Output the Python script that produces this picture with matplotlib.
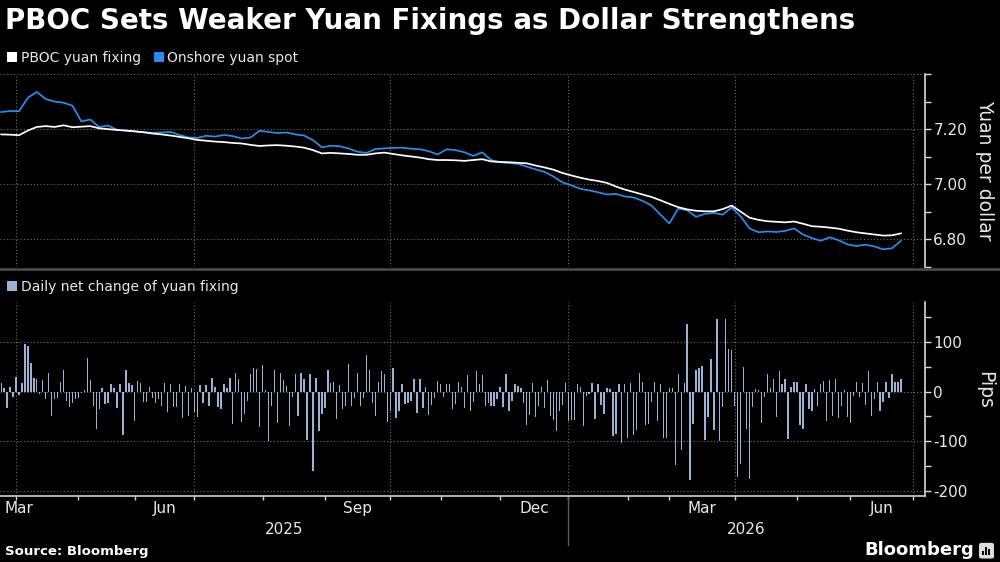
"""
PBOC yuan fixing vs onshore spot, with daily fixing changes (Bloomberg style)
"""

import numpy as np
import pandas as pd
import matplotlib
matplotlib.use("Agg")
from matplotlib import pyplot as plt
from matplotlib.patches import Patch, FancyBboxPatch, Rectangle
from matplotlib.lines import Line2D
import matplotlib.transforms as mtransforms

BG = "#000000"
WHITE = "#ffffff"
SPOT_BLUE = "#2a8cf0"
BAR_BLUE = "#9ab2d6"
GRID = "#707070"
TEXT = "#e8e8e8"

# onshore market holidays (weekdays), x axis runs on trading days
holidays = [
    "2025-04-04", "2025-05-01", "2025-05-02", "2025-05-05", "2025-06-02",
    "2025-10-01", "2025-10-02", "2025-10-03", "2025-10-06", "2025-10-07", "2025-10-08",
    "2026-01-01", "2026-01-02", "2026-02-16", "2026-02-17", "2026-02-18",
    "2026-02-19", "2026-02-20", "2026-02-23", "2026-04-06",
    "2026-05-01", "2026-05-04", "2026-05-05", "2026-06-19",
]
start_date = "2025-03-25"

# yuan per dollar, every third trading day
fixing = [
    7.181, 7.180, 7.178, 7.195, 7.208, 7.211, 7.208, 7.214, 7.207, 7.209,
    7.211, 7.203, 7.200, 7.197, 7.195, 7.192, 7.189, 7.184, 7.181, 7.177,
    7.172, 7.167, 7.161, 7.158, 7.155, 7.153, 7.150, 7.148, 7.143, 7.139,
    7.141, 7.142, 7.140, 7.137, 7.133, 7.124, 7.112, 7.114, 7.112, 7.110,
    7.107, 7.107, 7.112, 7.115, 7.110, 7.105, 7.101, 7.097, 7.091, 7.088,
    7.088, 7.087, 7.085, 7.088, 7.091, 7.083, 7.081, 7.080, 7.078, 7.076,
    7.068, 7.061, 7.053, 7.041, 7.032, 7.024, 7.017, 7.012, 7.005, 6.992,
    6.981, 6.972, 6.963, 6.954, 6.942, 6.929, 6.917, 6.909, 6.904, 6.902,
    6.902, 6.910, 6.923, 6.901, 6.879, 6.871, 6.866, 6.864, 6.862, 6.865,
    6.857, 6.848, 6.846, 6.843, 6.839, 6.832, 6.826, 6.822, 6.818, 6.814,
    6.815, 6.822,
]
spot = [
    7.262, 7.266, 7.265, 7.314, 7.335, 7.309, 7.300, 7.296, 7.285, 7.228,
    7.235, 7.208, 7.213, 7.198, 7.194, 7.192, 7.188, 7.187, 7.188, 7.190,
    7.179, 7.170, 7.168, 7.176, 7.173, 7.179, 7.175, 7.166, 7.170, 7.194,
    7.190, 7.186, 7.188, 7.181, 7.177, 7.160, 7.134, 7.140, 7.138, 7.130,
    7.118, 7.114, 7.128, 7.130, 7.132, 7.133, 7.129, 7.127, 7.120, 7.108,
    7.127, 7.124, 7.116, 7.103, 7.116, 7.088, 7.080, 7.077, 7.074, 7.064,
    7.054, 7.045, 7.028, 7.007, 6.996, 6.984, 6.978, 6.971, 6.963, 6.965,
    6.956, 6.952, 6.940, 6.923, 6.890, 6.858, 6.912, 6.906, 6.882, 6.893,
    6.896, 6.890, 6.916, 6.884, 6.840, 6.826, 6.829, 6.827, 6.831, 6.840,
    6.818, 6.805, 6.795, 6.808, 6.797, 6.782, 6.776, 6.781, 6.775, 6.764,
    6.768, 6.795,
]

# daily net change of the fixing, pips
pip_change = [
    18, 8, -33, 9, -11, 29, -7, 18, 96, 91, 58, 27, 25, -5, 23, -14, 38, -49,
    -15, -13, 19, 43, -19, -32, -24, -15, -13, -2, 3, 68, 23, -29, -75, -35,
    8, -25, -22, 15, 7, -33, 16, -87, 43, 18, 13, -59, 21, 18, -20, -20, 9,
    -12, -24, -15, -29, 18, -42, 15, -32, -32, 15, -53, 11, -49, 8, -42, -52,
    13, -24, 13, -29, 28, 9, -31, -35, 15, 8, 27, -65, 38, 25, -62, -45, -19,
    35, 48, 45, -71, 53, 3, -100, -29, 43, -64, 38, 23, 11, -69, -11, 35, -49,
    38, 25, -97, 35, -160, 27, -80, -45, -33, 43, 18, 19, -55,
    13, -35, -29, 55, -29, -12, 38, -29, -12, 73, 43, -22, -49, 20, 41, 35,
    -62, -39, 48, -53, -39, 15, -25, -24, -19, 25, -44, 25, -33, 9, -47, -27,
    -13, 21, 15, -11, 16, 15, -35, -25, 20, 9, -33, 33, -40, -20, 41, 16, 33,
    -29, -22, -29, -29, -15, 9, -31, 36, -40, -19, 15, 11, 8, -24, -67, -47,
    18, -52, -29, 9, -33, 23, -49, -57, -79, -39, -27, 18, -60, -57, -57, 15,
    9, -69, -9, -4, 18, -55, 15, -27, -45, 7, 5, -89, -85, 15,
    -104, 15, -93, 18, -87, -77, 38, 20, -67, -65, -20, 20, -59, 15, -93, -93,
    7, 8, -147, 36, -117, 18, 135, -177, -65, 43, 48, 51, -97, -52, 66, -77,
    145, -99, -32, 146, 86, 83, -29, -171, -145, 49, -75, -175, -31, 5, 3,
    -64, -11, 35, 7, 26, -52, 41, 15, 25, -95, 9, 20, 20, -67, -75, 15, -35,
    -40, 5, -29, 15, 21, -59, 23, -49, 25, -53, -29, 3, -51, -63, -9, 19, -11,
    18, -27, 41, -50, -15, 19, -39, -20, 19, -12, 35, 19, 20, 25,
]

month_names = {3: "Mar", 6: "Jun", 9: "Sep", 12: "Dec"}
years = [2025, 2026]

days = pd.bdate_range(start_date, "2026-07-31", freq="C", holidays=holidays)
month_starts = pd.date_range("2025-03-01", "2026-07-01", freq="MS")
month_idx = days.searchsorted(month_starts)
x_left, x_right = -0.4, 311.1

x_bars = np.arange(len(pip_change))
x_line = np.arange(len(fixing)) * 3

fig = plt.figure(figsize=(10, 5.62), dpi=100)
fig.patch.set_facecolor(BG)

ax1 = fig.add_axes([0.0, 0.5249, 0.925, 0.3434])
ax2 = fig.add_axes([0.0, 0.1174, 0.925, 0.3452])

dotted = dict(color=GRID, linestyle=(0, (1, 2)), linewidth=0.8)
quarter_idx = [month_idx[i] for i, m in enumerate(month_starts) if m.month in (1, 4, 7, 10)]

for ax in (ax1, ax2):
    ax.set_facecolor(BG)
    for s in ("top", "left", "bottom"):
        ax.spines[s].set_visible(False)
    ax.spines["right"].set_color("#d8d8d8")
    ax.spines["right"].set_linewidth(1.2)
    ax.yaxis.tick_right()
    ax.tick_params(axis="y", which="both", direction="out", length=4, width=1,
                   colors="#d8d8d8", labelcolor=TEXT, labelsize=11, pad=2)
    ax.grid(axis="y", which="major", **dotted)
    for q in quarter_idx:
        ax.axvline(q, zorder=0, **dotted)
    ax.set_axisbelow(True)

# top panel
ax1.plot(x_line, spot, color=SPOT_BLUE, linewidth=1.25, zorder=3)
ax1.plot(x_line, fixing, color=WHITE, linewidth=1.25, zorder=4)
ax1.set_ylim(6.70, 7.40)
ax1.set_yticks([6.8, 7.0, 7.2, 7.4])
ax1.set_yticklabels(["6.80", "7.00", "7.20", ""])
ax1.set_yticks([6.7, 6.9, 7.1, 7.3], minor=True)
ax1.set_xticks([])

# bottom panel
ax2.bar(x_bars, pip_change, width=0.45, color=BAR_BLUE, zorder=3)
ax2.set_ylim(-210, 180)
ax2.set_yticks([-200, -100, 0, 100])
ax2.set_yticklabels(["-200", "-100", "0", "100"])
ax2.set_yticks([-150, -50, 50, 150], minor=True)
ax2.spines["bottom"].set_visible(True)
ax2.spines["bottom"].set_color("#cfcfcf")
ax2.spines["bottom"].set_linewidth(1.2)
ax2.set_xticks(month_idx[1:])
ax2.set_xticklabels([])
ax2.tick_params(axis="x", direction="out", length=3, width=1, colors="#cfcfcf")

for ax in (ax1, ax2):
    ax.set_xlim(x_left, x_right)

# month and year labels under the axis
tr = mtransforms.blended_transform_factory(ax2.transData, ax2.transAxes)
for i in range(len(month_starts) - 1):
    m = month_starts[i]
    if m.month not in month_names:
        continue
    lo, hi = max(month_idx[i], x_left), month_idx[i + 1]
    if lo <= x_left + 1:
        ax2.text(x_left + 1.5, -0.025, month_names[m.month], transform=tr,
                 ha="left", va="top", color=TEXT, fontsize=11)
    else:
        ax2.text((lo + hi) / 2, -0.025, month_names[m.month], transform=tr,
                 ha="center", va="top", color=TEXT, fontsize=11)

year_break = days.searchsorted(pd.Timestamp("2026-01-01"))
for y, (lo, hi) in zip(years, [(x_left, year_break), (year_break, x_right)]):
    ax2.text((lo + hi) / 2, -0.135, str(y), transform=tr, ha="center", va="top",
             color=TEXT, fontsize=11)
ax2.add_line(Line2D([year_break, year_break], [0, -0.25], transform=tr,
                    color="#5a5a5a", linewidth=1, clip_on=False))

# separator between panels
fig.add_artist(Line2D([0, 1], [1 - 269 / 562] * 2, color="#4a4a4a", linewidth=2))

# titles, legends, axis names
fig.text(0.005, 0.963, "PBOC Sets Weaker Yuan Fixings as Dollar Strengthens",
         color=WHITE, fontsize=20, fontweight="bold", va="center", ha="left")

leg_kw = dict(frameon=False, fontsize=10, handlelength=0.75, handleheight=0.75,
              handletextpad=0.25, columnspacing=0.9, borderpad=0, borderaxespad=0,
              labelcolor=TEXT, loc="center left")
fig.legend(handles=[Patch(facecolor=WHITE, label="PBOC yuan fixing"),
                    Patch(facecolor=SPOT_BLUE, label="Onshore yuan spot")],
           ncol=2, bbox_to_anchor=(0.007, 1 - 58 / 562), **leg_kw)
fig.legend(handles=[Patch(facecolor=BAR_BLUE, label="Daily net change of yuan fixing")],
           bbox_to_anchor=(0.007, 1 - 287 / 562), **leg_kw)

fig.text(0.985, 1 - 170 / 562, "Yuan per dollar", rotation=270, color=TEXT,
         fontsize=13.5, ha="center", va="center")
fig.text(0.985, 1 - 390 / 562, "Pips", rotation=270, color=TEXT,
         fontsize=13.5, ha="center", va="center")

fig.text(0.005, 1 - 551 / 562, "Source: Bloomberg", color=WHITE, fontsize=9.5,
         fontweight="bold", ha="left", va="center")
fig.text(0.974, 1 - 550 / 562, "Bloomberg", color=WHITE, fontsize=13,
         fontweight="bold", ha="right", va="center")
icon = FancyBboxPatch((0.980, 1 - 558 / 562), 0.013, 0.026,
                      boxstyle="round,pad=0.001,rounding_size=0.003",
                      transform=fig.transFigure, facecolor="#dcdcdc", edgecolor="none")
fig.add_artist(icon)
for dx, h in [(0.0025, 0.008), (0.0055, 0.014), (0.0085, 0.011)]:
    fig.add_artist(Rectangle((0.980 + dx, 1 - 555 / 562), 0.0018, h,
                             transform=fig.transFigure, facecolor=BG, edgecolor="none"))

fig.savefig("out.png", dpi=100, facecolor=BG)
